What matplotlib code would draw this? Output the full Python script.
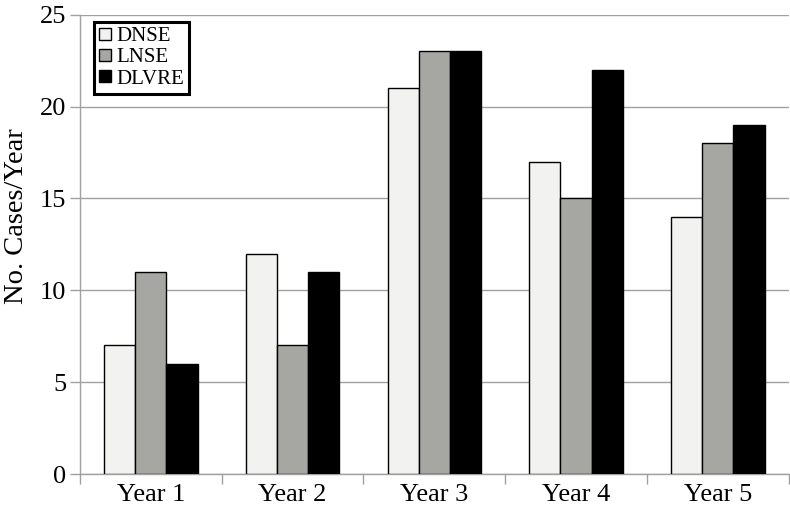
import numpy as np
import matplotlib
matplotlib.use("Agg")
import matplotlib.pyplot as plt

years = ["Year 1", "Year 2", "Year 3", "Year 4", "Year 5"]
dnse = [7, 12, 21, 17, 14]
lnse = [11, 7, 23, 15, 18]
dlvre = [6, 11, 23, 22, 19]

plt.rcParams['font.family'] = ['Liberation Serif', 'DejaVu Serif']

fig = plt.figure(figsize=(7.9, 5.12), dpi=100)
ax = fig.add_axes([0.1013, 0.0742, 0.897, 0.897])

x = np.arange(len(years))
w = 0.22
series = [("DNSE", dnse, "#f2f2f0"), ("LNSE", lnse, "#a6a6a3"), ("DLVRE", dlvre, "#000000")]
for i, (name, vals, col) in enumerate(series):
    ax.bar(x + (i - 1) * w, vals, w, color=col, edgecolor="black", linewidth=1.0,
           label=name, zorder=3)

ax.set_xlim(-0.5, len(years) - 0.5)
ax.set_ylim(0, 25)
ax.set_yticks([0, 5, 10, 15, 20, 25])
ax.yaxis.grid(True, color="#a0a0a0", linewidth=1.0, zorder=0)

# category labels centred, tick marks between groups
ax.set_xticks(x)
ax.set_xticklabels(years, fontsize=19)
ax.tick_params(axis="x", length=0, pad=7)
ax.set_xticks(np.arange(-0.5, len(years), 1.0), minor=True)
ax.tick_params(axis="x", which="minor", length=7, color="#a0a0a0", width=1.0)
ax.tick_params(axis="y", labelsize=19, length=7, color="#a0a0a0", width=1.0, pad=3)

for s in ["top", "right"]:
    ax.spines[s].set_visible(False)
for s in ["left", "bottom"]:
    ax.spines[s].set_color("#a0a0a0")
    ax.spines[s].set_linewidth(1.0)

ax.set_ylabel("No. Cases/Year", fontsize=20.5)
ax.yaxis.set_label_coords(-0.072, 0.562)

leg = ax.legend(loc="upper left", bbox_to_anchor=(0.014, 0.993), fontsize=15,
                frameon=True, fancybox=False, handlelength=0.55, handleheight=0.55,
                handletextpad=0.25, borderpad=0.25, labelspacing=0.1, borderaxespad=0.2)
leg.get_frame().set_edgecolor("black")
leg.get_frame().set_linewidth(2.2)
leg.get_frame().set_alpha(1.0)

fig.savefig("out.png", dpi=100)
